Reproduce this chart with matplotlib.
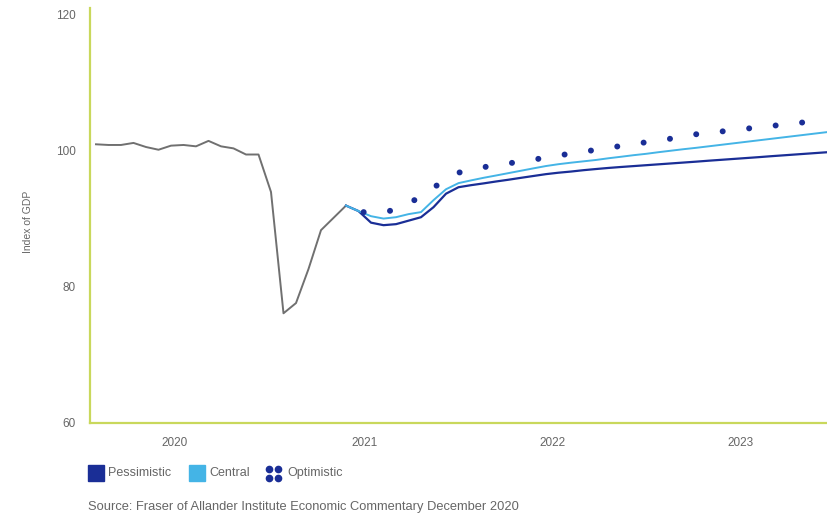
import matplotlib.pyplot as plt
from matplotlib.patches import Rectangle
from matplotlib.lines import Line2D

plt.rcParams['font.family'] = ['Liberation Sans', 'DejaVu Sans']

# monthly index of GDP, actual outturn
actual = [100.9, 100.8, 100.8, 101.1, 100.5, 100.1, 100.7, 100.8, 100.6, 101.4,
          100.6, 100.3, 99.4, 99.4, 93.9, 76.1, 77.6, 82.6, 88.3, 90.1, 91.9]

# scenario paths, starting from the last actual month
central = [91.9, 91.1, 90.35, 90.0, 90.2, 90.65, 90.95, 92.7, 94.3, 95.2,
           95.6, 95.98, 96.32, 96.67, 97.02, 97.37, 97.71, 97.98, 98.2, 98.4,
           98.6, 98.85, 99.07, 99.3, 99.5, 99.74, 99.96, 100.18, 100.38, 100.6,
           100.82, 101.04, 101.26, 101.48, 101.7, 101.92, 102.14, 102.36, 102.58, 102.8]
pessimistic = [91.9, 91.1, 89.4, 89.03, 89.18, 89.69, 90.2, 91.67, 93.65, 94.6,
               94.9, 95.16, 95.44, 95.7, 95.98, 96.25, 96.52, 96.73, 96.9, 97.1,
               97.27, 97.43, 97.57, 97.7, 97.83, 97.96, 98.09, 98.22, 98.35, 98.49,
               98.62, 98.75, 98.88, 99.01, 99.15, 99.28, 99.41, 99.54, 99.67, 99.8]
optimistic = [91.0, 90.87, 90.87, 91.38, 92.26, 93.2, 94.53, 95.78, 96.73,
              97.17, 97.54, 97.83, 98.1, 98.37, 98.64, 98.96, 99.25, 99.55, 99.8,
              100.1, 100.4, 100.65, 100.92, 101.2, 101.47, 101.73, 102.08, 102.37, 102.57,
              102.77, 102.99, 103.18, 103.4, 103.59, 103.78, 103.99, 104.2, 104.43, 104.7]

year_labels = ['2020', '2021', '2022', '2023']
year_pos = [6.3, 21.5, 36.55, 51.6]
y_ticks = [60, 80, 100, 120]

x_actual = list(range(len(actual)))
start = len(actual) - 1
x_central = list(range(start, start + len(central)))
x_pess = list(range(start, start + len(pessimistic)))
x_opt = list(range(start + 1, start + 1 + len(optimistic)))

dark_blue = '#1a2e96'
light_blue = '#44b4e6'
axis_green = '#c9d85c'
grey_text = '#666666'

fig = plt.figure(figsize=(8.28, 5.15), dpi=100)
ax = fig.add_axes([90 / 828, 1 - 423 / 515, 1 - 90 / 828, 415 / 515])

ax.plot(x_actual, actual, color='#707070', lw=1.4, zorder=3)
ax.plot(x_pess, pessimistic, color=dark_blue, lw=1.6, zorder=4)
ax.plot(x_central, central, color=light_blue, lw=1.4, zorder=5)
# dotted optimistic path; offset pushes the first dot a few pixels along
ax.plot(x_opt, optimistic, color=dark_blue, lw=4.3,
        linestyle=(3.6, (0.01, 4.45)), dash_capstyle='round', zorder=6)

ax.set_xlim(-0.48, 58.56)
ax.set_ylim(60, 120.9)
ax.set_xticks(year_pos)
ax.set_xticklabels(year_labels)
ax.set_yticks(y_ticks)
ax.tick_params(axis='both', length=0, labelsize=8.5, labelcolor=grey_text)
ax.tick_params(axis='x', pad=10)
ax.tick_params(axis='y', pad=10)

for side in ['top', 'right']:
    ax.spines[side].set_visible(False)
for side in ['left', 'bottom']:
    ax.spines[side].set_color(axis_green)
    ax.spines[side].set_linewidth(1.6)

fig.text(28 / 828, 1 - 222 / 515, 'Index of GDP', rotation=90, ha='center',
         va='center', fontsize=7.5, color=grey_text)

# legend row
leg_y = 1 - 473 / 515
sq = 16
fig.patches.append(Rectangle((88 / 828, leg_y - sq / 2 / 515), sq / 828, sq / 515,
                             transform=fig.transFigure, color=dark_blue))
fig.text(108 / 828, leg_y, 'Pessimistic', va='center', fontsize=9, color=grey_text)
fig.patches.append(Rectangle((189 / 828, leg_y - sq / 2 / 515), sq / 828, sq / 515,
                             transform=fig.transFigure, color=light_blue))
fig.text(209 / 828, leg_y, 'Central', va='center', fontsize=9, color=grey_text)
for dx in (0, 9):
    for dy in (-4.5, 4.5):
        fig.add_artist(Line2D([(269 + dx) / 828], [leg_y + dy / 515], marker='o',
                              markersize=4.5, color=dark_blue, lw=0,
                              transform=fig.transFigure))
fig.text(287 / 828, leg_y, 'Optimistic', va='center', fontsize=9, color=grey_text)

fig.text(88 / 828, 1 - 507 / 515, 'Source: Fraser of Allander Institute Economic Commentary December 2020',
         va='center', fontsize=9.3, color=grey_text)

fig.savefig('out.png', dpi=100)
